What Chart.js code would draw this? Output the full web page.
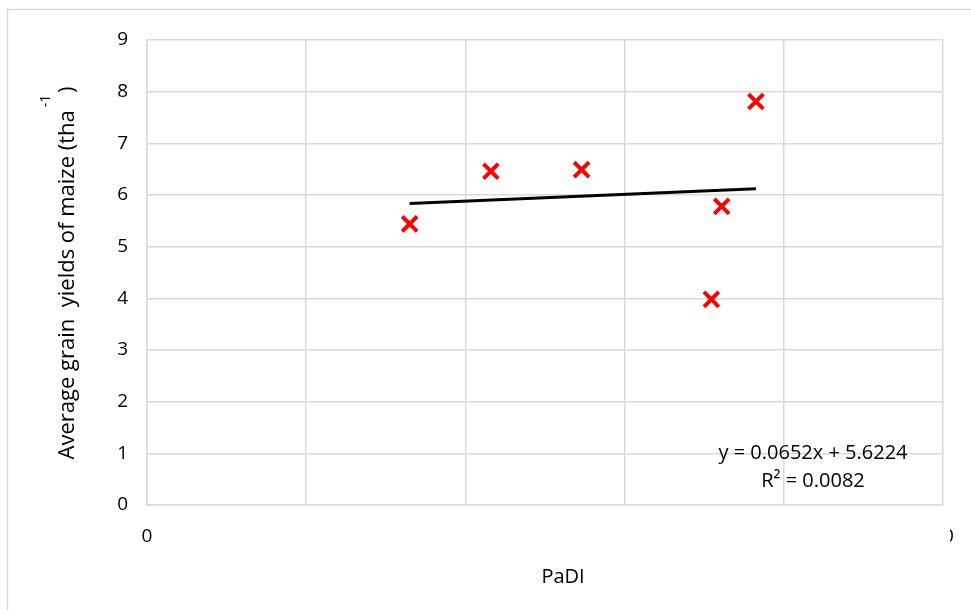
<!DOCTYPE html>
<html>
<head>
<meta charset="utf-8">
<script src="https://cdn.jsdelivr.net/npm/chart.js@4.4.0/dist/chart.umd.min.js"></script>
<style>
  html, body { margin: 0; padding: 0; background: #fff; }
  #wrap { width: 971px; height: 610px; position: relative; }
</style>
</head>
<body>
<div id="wrap"><canvas id="chart"></canvas></div>
<script>
// data
const padiValues = [3.30, 4.32, 5.46, 7.09, 7.22, 7.65]
const yieldValues = [5.44, 6.46, 6.49, 3.98, 5.78, 7.81]
const trendSlope = 0.0652
const trendIntercept = 5.6224
const rSquared = 0.0082
const xTickLabels = [0, 10]

const FONT = "'Open Sans', 'Liberation Sans', sans-serif"

const points = padiValues.map((x, i) => ({ x: x, y: yieldValues[i] }))
const xMin = Math.min(...padiValues)
const xMax = Math.max(...padiValues)
const trendPoints = [xMin, xMax].map(x => ({ x: x, y: trendSlope * x + trendIntercept }))

// frame + custom texts (axis titles, superscript, equation)
const extras = {
  id: 'extras',
  beforeDraw(chart) {
    const ctx = chart.ctx
    ctx.save()
    ctx.fillStyle = '#fff'
    ctx.fillRect(0, 0, chart.width, chart.height)
    ctx.strokeStyle = '#d9d9d9'
    ctx.lineWidth = 1.5
    ctx.strokeRect(7.5, 9.5, chart.width + 20, chart.height + 20)
    ctx.restore()
  },
  afterDraw(chart) {
    const ctx = chart.ctx
    const area = chart.chartArea
    const xs = chart.scales.x
    ctx.save()
    // the last x label is cut off in the source
    const p10 = xs.getPixelForValue(10)
    ctx.fillStyle = '#fff'
    ctx.fillRect(p10 - 14, area.bottom + 15, 21, 34)

    // x title
    ctx.fillStyle = '#000'
    ctx.font = '20px ' + FONT
    ctx.textAlign = 'center'
    ctx.textBaseline = 'middle'
    ctx.fillText('PaDI', (area.left + area.right) / 2 + 18, 577)

    // y title
    ctx.translate(68, 273)
    ctx.rotate(-Math.PI / 2)
    ctx.font = '22px ' + FONT
    const main = 'Average grain  yields of maize (tha'
    const tail = '   )'
    const wMain = ctx.measureText(main).width
    const wTail = ctx.measureText(tail).width
    const start = -(wMain + wTail) / 2
    ctx.textAlign = 'left'
    ctx.fillText(main, start, 0)
    ctx.fillText(tail, start + wMain, 0)
    ctx.font = '14px ' + FONT
    ctx.fillText('-1', start + wMain + 3, -22)
    ctx.restore()

    // trendline equation
    ctx.save()
    ctx.fillStyle = '#000'
    ctx.font = '20px ' + FONT
    ctx.textAlign = 'center'
    ctx.textBaseline = 'middle'
    ctx.fillText('y = ' + trendSlope + 'x + ' + trendIntercept, 813, 453)
    ctx.fillText('R² = ' + rSquared, 813, 481)
    ctx.restore()
  }
}

new Chart(document.getElementById('chart'), {
  type: 'scatter',
  data: {
    datasets: [
      {
        label: 'yield',
        data: points,
        pointStyle: 'crossRot',
        pointRadius: 10.5,
        pointHoverRadius: 10.5,
        pointBorderWidth: 4,
        borderColor: '#ff0000',
        backgroundColor: '#ff0000',
        order: 1
      },
      {
        label: 'trend',
        type: 'line',
        data: trendPoints,
        borderColor: '#000',
        borderWidth: 3,
        pointRadius: 0,
        fill: false,
        order: 2
      }
    ]
  },
  options: {
    responsive: true,
    maintainAspectRatio: false,
    animation: false,
    layout: { padding: { top: 40, right: 28, left: 0, bottom: 0 } },
    plugins: {
      legend: { display: false },
      tooltip: { enabled: false }
    },
    scales: {
      x: {
        type: 'linear',
        min: 0,
        max: 10,
        afterFit(scale) {
          scale.height = 105
          scale.paddingLeft = 0
          scale.paddingRight = 0
        },
        grid: { color: '#d9d9d9', lineWidth: 1.5, drawTicks: false },
        border: { color: '#d9d9d9', width: 1.5 },
        ticks: {
          stepSize: 2,
          padding: 20,
          color: '#000',
          font: { family: FONT, size: 19 },
          callback: v => xTickLabels.includes(v) ? String(v) : ''
        }
      },
      y: {
        min: 0,
        max: 9,
        afterFit(scale) { scale.width = 147 },
        grid: { color: '#d9d9d9', lineWidth: 1.5, drawTicks: false },
        border: { color: '#d9d9d9', width: 1.5 },
        ticks: {
          stepSize: 1,
          padding: 19,
          color: '#000',
          font: { family: FONT, size: 19 }
        }
      }
    }
  },
  plugins: [extras]
})
</script>
</body>
</html>
